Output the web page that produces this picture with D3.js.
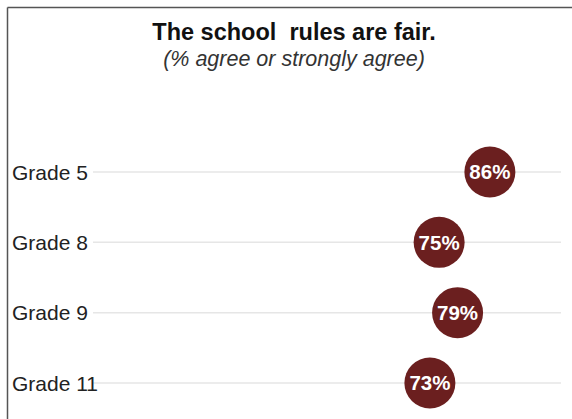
<!DOCTYPE html>
<html><head><meta charset="utf-8">
<script src="https://cdn.jsdelivr.net/npm/d3@7"></script>
<style>html,body{margin:0;padding:0;background:#fff;}svg{display:block;}</style>
</head><body>
<script>
const categories = ["Grade 5", "Grade 8", "Grade 9", "Grade 11"];
const values = [86, 75, 79, 73];
const title = "The school  rules are fair.";
const subtitle = "(% agree or strongly agree)";

const W = 572, H = 419;
const svg = d3.select("body").append("svg").attr("width", W).attr("height", H);

// frame
svg.append("line").attr("x1", 7.5).attr("x2", W).attr("y1", 7.5).attr("y2", 7.5)
  .attr("stroke", "#555").attr("stroke-width", 1.5);
svg.append("line").attr("x1", 7.5).attr("x2", 7.5).attr("y1", 7.5).attr("y2", H)
  .attr("stroke", "#555").attr("stroke-width", 1.5);

const x = d3.scaleLinear().domain([0, 100]).range([93, 554.5]);
const y = d3.scalePoint().domain(categories).range([172, 383]);

svg.append("text").attr("x", 294).attr("y", 40).attr("text-anchor", "middle")
  .style("white-space", "pre")
  .attr("font-family", "Liberation Sans, Arial, sans-serif").attr("font-weight", "bold")
  .attr("font-size", 23.5).attr("fill", "#111").text(title);
svg.append("text").attr("x", 294).attr("y", 66).attr("text-anchor", "middle")
  .attr("font-family", "Liberation Sans, Arial, sans-serif").attr("font-style", "italic")
  .attr("font-size", 21.5).attr("fill", "#333").text(subtitle);

const rows = svg.append("g").selectAll("g").data(categories).join("g")
  .attr("transform", d => `translate(0,${y(d)})`);

rows.append("line").attr("x1", x(0)).attr("x2", 561).attr("y1", 0).attr("y2", 0)
  .attr("stroke", "#e6e6e6").attr("stroke-width", 1.5);
rows.append("text").attr("x", 12).attr("y", 0).attr("dy", "0.36em")
  .attr("font-family", "Liberation Sans, Arial, sans-serif").attr("font-size", 21)
  .attr("fill", "#222").text(d => d);

const dots = svg.append("g").selectAll("g").data(values).join("g")
  .attr("transform", (d, i) => `translate(${x(d)},${y(categories[i])})`);
dots.append("circle").attr("r", 25.5).attr("fill", "#6b1f1f");
dots.append("text").attr("text-anchor", "middle").attr("dy", "0.36em")
  .attr("font-family", "Liberation Sans, Arial, sans-serif").attr("font-weight", "bold")
  .attr("font-size", 20.5).attr("fill", "#fff").text(d => d + "%");
</script>
</body></html>
